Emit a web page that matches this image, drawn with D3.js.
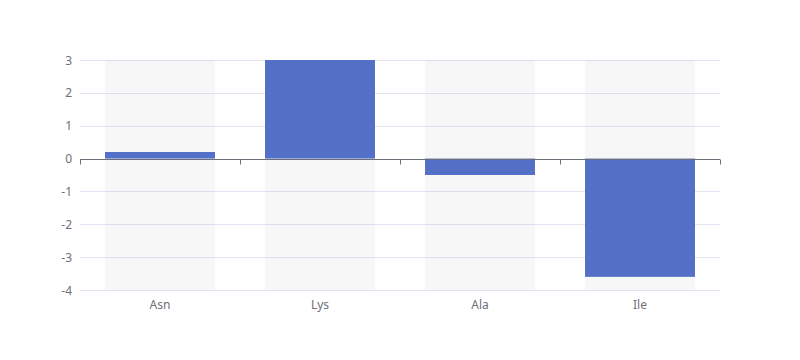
<!DOCTYPE html>
<html>
<head>
<meta charset="utf-8">
<script src="https://cdn.jsdelivr.net/npm/d3@7/dist/d3.min.js"></script>
<style>
  html, body { margin: 0; padding: 0; background: #fff; }
  svg { display: block; font-family: "Microsoft YaHei", "Noto Sans", sans-serif; }
</style>
</head>
<body>
<div id="chart"></div>
<script>
const categories = ["Asn", "Lys", "Ala", "Ile"];
const values = [0.2, 3, -0.5, -3.6];
const yTicks = [-4, -3, -2, -1, 0, 1, 2, 3];

const W = 800, H = 360;
const margin = { left: 80, right: 80, top: 60, bottom: 70 };

const svg = d3.select("#chart").append("svg").attr("width", W).attr("height", H);

const x = d3.scaleBand().domain(categories).range([margin.left, W - margin.right]).paddingInner(0).paddingOuter(0);
const y = d3.scaleLinear().domain([-4, 3]).range([H - margin.bottom, margin.top]);

const bw = x.bandwidth() * 0.6875;
const off = (x.bandwidth() - bw) / 2;

// grid lines
svg.append("g").selectAll("line").data(yTicks).join("line")
  .attr("x1", margin.left).attr("x2", W - margin.right)
  .attr("y1", d => Math.round(y(d)) + 0.5).attr("y2", d => Math.round(y(d)) + 0.5)
  .attr("stroke", "#e0e6f1").attr("stroke-width", 1);

// background bars
svg.append("g").selectAll("rect").data(categories).join("rect")
  .attr("x", d => x(d) + off).attr("width", bw)
  .attr("y", y(3)).attr("height", y(-4) - y(3))
  .attr("fill", "rgba(180,180,180,0.1)");

// bars
svg.append("g").selectAll("rect").data(values).join("rect")
  .attr("x", (d, i) => x(categories[i]) + off).attr("width", bw)
  .attr("y", d => y(Math.max(0, d))).attr("height", d => Math.abs(y(d) - y(0)))
  .attr("fill", "#5470c6");

// y labels
svg.append("g").selectAll("text").data(yTicks).join("text")
  .attr("x", margin.left - 8).attr("y", d => y(d))
  .attr("text-anchor", "end").attr("dominant-baseline", "central")
  .attr("fill", "#6e7079").attr("font-size", 12).text(d => d);

// x axis at zero
const y0 = Math.round(y(0)) + 0.5;
const xAxis = d3.axisBottom(x).tickSize(5).tickFormat("");
const gx = svg.append("g").attr("transform", `translate(0,${y0})`);
gx.append("line").attr("x1", margin.left).attr("x2", W - margin.right)
  .attr("stroke", "#6e7079");
const bounds = categories.map(c => x(c)).concat([W - margin.right]);
gx.selectAll("line.tick").data(bounds).join("line").attr("class", "tick")
  .attr("x1", d => Math.round(d) + 0.5).attr("x2", d => Math.round(d) + 0.5)
  .attr("y1", 0).attr("y2", 5).attr("stroke", "#6e7079");

// category labels
svg.append("g").selectAll("text").data(categories).join("text")
  .attr("x", d => x(d) + x.bandwidth() / 2).attr("y", y(-4) + 14)
  .attr("text-anchor", "middle").attr("dominant-baseline", "central")
  .attr("fill", "#6e7079").attr("font-size", 12).text(d => d);
</script>
</body>
</html>
